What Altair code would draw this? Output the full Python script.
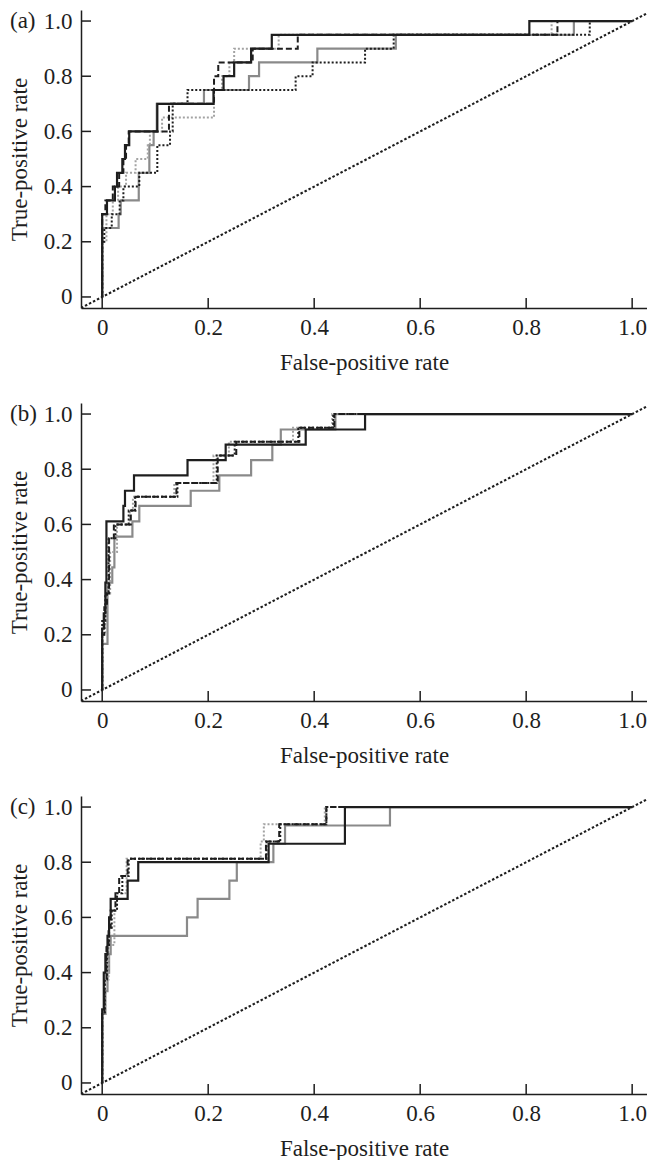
import altair as alt
import pandas as pd

FONT = "Liberation Serif, DejaVu Serif, serif"
INK = "#1e1e1e"
GRAY = "#8a8a8a"
LIGHT = "#a3a3a3"

TICKS = [0, 0.2, 0.4, 0.6, 0.8, 1.0]
DIAG = [-0.04, 1.04]
X_TITLE = "False-positive rate"
Y_TITLE = "True-positive rate"

# ---------------- Panel (a) ----------------
a_black_solid_fpr = [0, 0, 0.009, 0.024, 0.028, 0.038, 0.043, 0.051, 0.104, 0.21, 0.229, 0.249, 0.281, 0.32, 0.806, 1.0]
a_black_solid_tpr = [0, 0.3, 0.35, 0.4, 0.45, 0.5, 0.55, 0.6, 0.7, 0.75, 0.8, 0.85, 0.9, 0.95, 1.0, 1.0]
a_black_dashed_fpr = [0, 0, 0.006, 0.02, 0.032, 0.04, 0.045, 0.05, 0.126, 0.211, 0.219, 0.284, 0.369, 0.859, 1.0]
a_black_dashed_tpr = [0, 0.3, 0.35, 0.4, 0.45, 0.5, 0.55, 0.6, 0.7, 0.8, 0.85, 0.9, 0.95, 1.0, 1.0]
a_black_dotted_fpr = [0, 0, 0.004, 0.018, 0.033, 0.04, 0.07, 0.104, 0.128, 0.133, 0.161, 0.365, 0.397, 0.496, 0.55, 0.92, 1.0]
a_black_dotted_tpr = [0, 0.2, 0.25, 0.3, 0.35, 0.4, 0.45, 0.55, 0.6, 0.7, 0.75, 0.8, 0.85, 0.9, 0.95, 1.0, 1.0]
a_gray_dotted_fpr = [0, 0, 0.008, 0.02, 0.03, 0.045, 0.063, 0.086, 0.09, 0.113, 0.211, 0.226, 0.24, 0.249, 0.333, 0.848, 1.0]
a_gray_dotted_tpr = [0, 0.2, 0.3, 0.35, 0.4, 0.45, 0.5, 0.55, 0.6, 0.65, 0.75, 0.8, 0.85, 0.9, 0.95, 1.0, 1.0]
a_gray_solid_fpr = [0, 0, 0.031, 0.035, 0.069, 0.089, 0.097, 0.103, 0.192, 0.277, 0.296, 0.406, 0.554, 0.89, 1.0]
a_gray_solid_tpr = [0, 0.25, 0.3, 0.35, 0.45, 0.55, 0.6, 0.7, 0.75, 0.8, 0.85, 0.9, 0.95, 1.0, 1.0]

# ---------------- Panel (b) ----------------
b_black_solid_fpr = [0, 0, 0.003, 0.006, 0.008, 0.04, 0.043, 0.06, 0.161, 0.233, 0.384, 0.496, 1.0]
b_black_solid_tpr = [0, 0.222, 0.278, 0.389, 0.611, 0.667, 0.722, 0.778, 0.833, 0.889, 0.944, 1.0, 1.0]
b_black_dashed_fpr = [0, 0, 0.004, 0.009, 0.013, 0.022, 0.054, 0.063, 0.14, 0.218, 0.253, 0.372, 0.438, 1.0]
b_black_dashed_tpr = [0, 0.2, 0.3, 0.35, 0.55, 0.6, 0.65, 0.7, 0.75, 0.85, 0.9, 0.95, 1.0, 1.0]
b_black_dotted_fpr = [0, 0, 0.006, 0.012, 0.025, 0.05, 0.062, 0.142, 0.216, 0.25, 0.37, 0.436, 1.0]
b_black_dotted_tpr = [0, 0.25, 0.35, 0.55, 0.6, 0.65, 0.7, 0.75, 0.85, 0.9, 0.95, 1.0, 1.0]
b_gray_dotted_fpr = [0, 0, 0.006, 0.015, 0.028, 0.052, 0.058, 0.136, 0.21, 0.239, 0.36, 0.434, 1.0]
b_gray_dotted_tpr = [0, 0.2, 0.35, 0.5, 0.6, 0.65, 0.7, 0.75, 0.85, 0.9, 0.95, 1.0, 1.0]
b_gray_solid_fpr = [0, 0, 0.01, 0.019, 0.023, 0.057, 0.07, 0.167, 0.221, 0.281, 0.321, 0.337, 0.44, 1.0]
b_gray_solid_tpr = [0, 0.167, 0.389, 0.444, 0.556, 0.611, 0.667, 0.722, 0.778, 0.833, 0.889, 0.944, 1.0, 1.0]

# ---------------- Panel (c) ----------------
c_black_solid_fpr = [0, 0, 0.003, 0.006, 0.01, 0.013, 0.016, 0.048, 0.068, 0.314, 0.458, 1.0]
c_black_solid_tpr = [0, 0.267, 0.4, 0.467, 0.533, 0.6, 0.667, 0.733, 0.8, 0.867, 1.0, 1.0]
c_black_dashed_fpr = [0, 0, 0.004, 0.008, 0.012, 0.016, 0.025, 0.032, 0.048, 0.309, 0.334, 0.423, 1.0]
c_black_dashed_tpr = [0, 0.25, 0.375, 0.5, 0.5625, 0.625, 0.6875, 0.75, 0.8125, 0.875, 0.9375, 1.0, 1.0]
c_black_dotted_fpr = [0, 0, 0.005, 0.009, 0.013, 0.018, 0.028, 0.038, 0.05, 0.31, 0.336, 0.423, 1.0]
c_black_dotted_tpr = [0, 0.25, 0.375, 0.5, 0.5625, 0.625, 0.6875, 0.75, 0.8125, 0.875, 0.9375, 1.0, 1.0]
c_gray_dotted_fpr = [0, 0, 0.006, 0.012, 0.023, 0.028, 0.046, 0.299, 0.305, 0.42, 1.0]
c_gray_dotted_tpr = [0, 0.25, 0.375, 0.5, 0.625, 0.6875, 0.8125, 0.875, 0.9375, 1.0, 1.0]
c_gray_solid_fpr = [0, 0, 0.006, 0.01, 0.013, 0.016, 0.16, 0.18, 0.24, 0.254, 0.323, 0.345, 0.543, 1.0]
c_gray_solid_tpr = [0, 0.25, 0.333, 0.4, 0.467, 0.533, 0.6, 0.667, 0.733, 0.8, 0.867, 0.933, 1.0, 1.0]

PANELS = [
    ("(a)", {
        "gray_solid": (a_gray_solid_fpr, a_gray_solid_tpr),
        "gray_dotted": (a_gray_dotted_fpr, a_gray_dotted_tpr),
        "black_dotted": (a_black_dotted_fpr, a_black_dotted_tpr),
        "black_dashed": (a_black_dashed_fpr, a_black_dashed_tpr),
        "black_solid": (a_black_solid_fpr, a_black_solid_tpr),
    }),
    ("(b)", {
        "gray_solid": (b_gray_solid_fpr, b_gray_solid_tpr),
        "gray_dotted": (b_gray_dotted_fpr, b_gray_dotted_tpr),
        "black_dotted": (b_black_dotted_fpr, b_black_dotted_tpr),
        "black_dashed": (b_black_dashed_fpr, b_black_dashed_tpr),
        "black_solid": (b_black_solid_fpr, b_black_solid_tpr),
    }),
    ("(c)", {
        "gray_solid": (c_gray_solid_fpr, c_gray_solid_tpr),
        "gray_dotted": (c_gray_dotted_fpr, c_gray_dotted_tpr),
        "black_dotted": (c_black_dotted_fpr, c_black_dotted_tpr),
        "black_dashed": (c_black_dashed_fpr, c_black_dashed_tpr),
        "black_solid": (c_black_solid_fpr, c_black_solid_tpr),
    }),
]

STYLES = {
    "gray_solid": dict(color=GRAY, strokeDash=[1, 0], strokeWidth=2.2),
    "gray_dotted": dict(color=LIGHT, strokeDash=[2, 2], strokeWidth=2),
    "black_dotted": dict(color=INK, strokeDash=[2, 2], strokeWidth=2),
    "black_dashed": dict(color=INK, strokeDash=[6, 3], strokeWidth=2),
    "black_solid": dict(color=INK, strokeDash=[1, 0], strokeWidth=2.2),
}

W, H = 566, 298
XDOM = [-0.04, 1.028]
YDOM = [-0.04, 1.04]
LABEL_EXPR = "datum.value == 0 ? '0' : format(datum.value, '.1f')"


def panel(label, series):
    xs = alt.Scale(domain=XDOM, nice=False, zero=False)
    ys = alt.Scale(domain=YDOM, nice=False, zero=False)
    xax = alt.Axis(values=TICKS, title=X_TITLE, labelExpr=LABEL_EXPR,
                   labelPadding=8, titleY=43)
    yax = alt.Axis(values=TICKS, title=Y_TITLE, labelExpr=LABEL_EXPR,
                   labelPadding=9, titleX=-50, titleY=H / 2, titleAngle=270,
                   titleBaseline="bottom", titleAlign="center")
    X = alt.X("x:Q", scale=xs, axis=xax)
    Y = alt.Y("y:Q", scale=ys, axis=yax)

    diag = alt.Chart(pd.DataFrame({"x": DIAG, "y": DIAG})).mark_line(
        clip=True, color=INK, strokeDash=[2.5, 2], strokeWidth=2.1
    ).encode(x=X, y=Y)

    layers = [diag]
    for name, (fpr, tpr) in series.items():
        df = pd.DataFrame({"x": fpr, "y": tpr, "i": list(range(len(fpr)))})
        layers.append(
            alt.Chart(df).mark_line(interpolate="step-after", **STYLES[name])
            .encode(x=X, y=Y, order="i:Q")
        )

    xt = alt.Chart(pd.DataFrame({"x": TICKS})).mark_rule(color=INK, strokeWidth=1.5).encode(
        x=X, y=alt.value(H), y2=alt.value(H - 10))
    yt = alt.Chart(pd.DataFrame({"y": TICKS})).mark_rule(color=INK, strokeWidth=1.5).encode(
        y=Y, x=alt.value(0), x2=alt.value(10))
    txt = alt.Chart(pd.DataFrame({"label": [label], "y": [1.0]})).mark_text(
        align="left", baseline="middle", dx=-71, font=FONT, fontSize=23, color=INK
    ).encode(x=alt.value(0), y=Y, text="label:N")

    layers += [xt, yt, txt]
    return alt.layer(*layers).properties(width=W, height=H)


charts = [panel(lbl, s) for lbl, s in PANELS]

chart = alt.vconcat(*charts, spacing=95, bounds="flush",
                    padding={"left": 0, "top": 2, "right": 0, "bottom": 0}).configure_view(
    stroke=None
).configure_axis(
    domainColor=INK, domainWidth=1.5, ticks=False, tickSize=0, grid=False,
    labelFont=FONT, labelFontSize=23, labelColor=INK, labelFlush=False,
    titleFont=FONT, titleFontSize=23, titleFontWeight="normal", titleColor=INK,
)

chart.save("out.html", embed_options={"renderer": "svg", "actions": False})
